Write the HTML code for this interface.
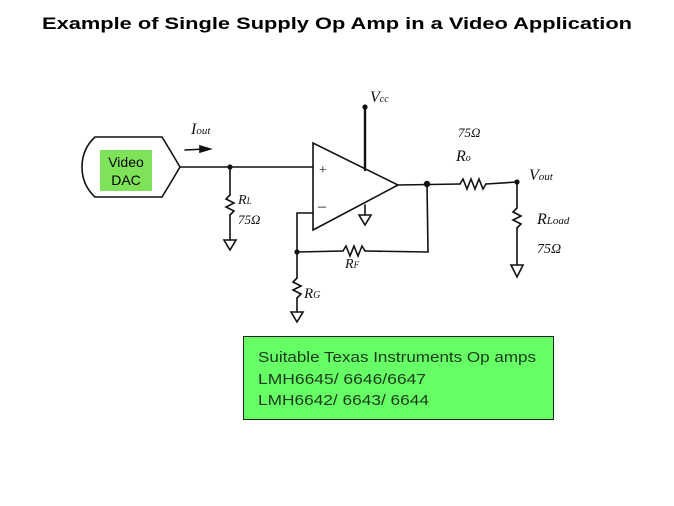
<!DOCTYPE html>
<html><head><style>body{margin:0;background:#fff}svg{display:block}</style></head>
<body>
<svg width="674" height="506" viewBox="0 0 674 506" xmlns="http://www.w3.org/2000/svg" font-family="Liberation Sans, sans-serif">
<text x="337" y="29" text-anchor="middle" font-size="17" font-weight="bold" textLength="590" lengthAdjust="spacingAndGlyphs">Example of Single Supply Op Amp in a Video Application</text>
<g stroke="#111" stroke-width="1.6" fill="none" stroke-linecap="round">
<!-- DAC -->
<path d="M95,137 L162,137 Q170,150 180,167 Q170,184 162,197 L95,197 Q82,185 82,167 Q82,149 95,137 Z"/>
<line x1="180" y1="167" x2="313" y2="167"/>
<!-- arrow -->
<line x1="185" y1="150" x2="205" y2="149"/>
<path d="M200,146 L210,149 L200,152 Z" fill="#111"/>
<!-- RL -->
<line x1="230" y1="167" x2="230" y2="195"/>
<path d="M230,195 l-4,4 l8,4 l-8,4 l8,4 l-4,4"/>
<line x1="230" y1="215" x2="230" y2="240"/>
<path d="M224,240 L236,240 L230,250 Z"/>
<!-- opamp -->
<path d="M313,143 L313,230 L398,185 Z"/>
<line x1="365" y1="107" x2="365" y2="170" stroke-width="2.4"/>
<line x1="365" y1="205" x2="365" y2="215"/>
<path d="M359,215 L371,215 L365,225 Z"/>
<!-- output -->
<line x1="398" y1="185" x2="460" y2="184"/>
<path d="M460,184 l3,-5 l4,10 l4,-10 l4,10 l4,-10 l4,10 l3,-5"/>
<line x1="486" y1="184" x2="517" y2="182"/>
<line x1="427" y1="184" x2="428" y2="252"/>
<line x1="428" y1="252" x2="365" y2="251"/>
<path d="M365,251 l-3,-5 l-4,10 l-4,-10 l-4,10 l-4,-10 l-3,5"/>
<line x1="343" y1="251" x2="297" y2="252"/>
<line x1="297" y1="213" x2="313" y2="213"/>
<line x1="297" y1="213" x2="297" y2="278"/>
<path d="M297,278 l-4,4 l8,4 l-8,4 l8,4 l-4,4"/>
<line x1="297" y1="298" x2="297" y2="312"/>
<path d="M291,312 L303,312 L297,322 Z"/>
<!-- Rload -->
<line x1="517" y1="182" x2="517" y2="208"/>
<path d="M517,208 l-4,4 l8,4 l-8,4 l8,4 l-4,4"/>
<line x1="517" y1="228" x2="517" y2="265"/>
<path d="M511,265 L523,265 L517,277 Z"/>
</g>
<g fill="#111">
<circle cx="230" cy="167" r="2.6"/><circle cx="365" cy="107" r="2.6"/><circle cx="427" cy="184" r="3.2"/>
<circle cx="517" cy="182" r="2.6"/><circle cx="297" cy="252" r="2.6"/>
</g>
<rect x="100" y="150" width="52" height="41" fill="#7fe35a"/>
<text x="126" y="167" font-size="14" text-anchor="middle">Video</text>
<text x="126" y="185" font-size="14" text-anchor="middle">DAC</text>
<g font-family="Liberation Serif, serif" font-style="italic" fill="#111">
<text x="191" y="134" font-size="16">I<tspan font-size="11">out</tspan></text>
<text x="370" y="102" font-size="16">V<tspan font-size="10">cc</tspan></text>
<text x="318" y="174" font-size="14">+</text>
<text x="318" y="211" font-size="16">–</text>
<text x="238" y="204" font-size="14">R<tspan font-size="9">L</tspan></text>
<text x="238" y="224" font-size="13">75Ω</text>
<text x="458" y="137" font-size="13">75Ω</text>
<text x="456" y="161" font-size="16">R<tspan font-size="10">o</tspan></text>
<text x="529" y="180" font-size="16">V<tspan font-size="11">out</tspan></text>
<text x="537" y="224" font-size="16">R<tspan font-size="11">Load</tspan></text>
<text x="537" y="253" font-size="14">75Ω</text>
<text x="345" y="268" font-size="14">R<tspan font-size="9">F</tspan></text>
<text x="304" y="298" font-size="15">R<tspan font-size="10">G</tspan></text>
</g>
<rect x="243.5" y="336.5" width="310" height="83" fill="#66ff66" stroke="#222" stroke-width="1"/>
<g font-size="15" fill="#1a3a1a">
<text x="258" y="362" textLength="278" lengthAdjust="spacingAndGlyphs">Suitable Texas Instruments Op amps</text>
<text x="258" y="384" textLength="168" lengthAdjust="spacingAndGlyphs">LMH6645/ 6646/6647</text>
<text x="258" y="405" textLength="171" lengthAdjust="spacingAndGlyphs">LMH6642/ 6643/ 6644</text>
</g>
</svg>
</body></html>
